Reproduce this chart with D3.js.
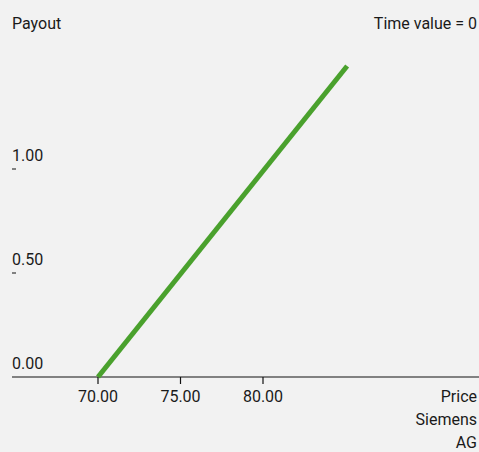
<!DOCTYPE html>
<html><head><meta charset="utf-8">
<script src="https://cdn.jsdelivr.net/npm/d3@7"></script>
<style>html,body{margin:0;padding:0;background:#f2f2f2;}svg{display:block;}text{font-family:Roboto,"DejaVu Sans",sans-serif;fill:#1a1a1a;}</style>
</head><body>
<script>
const prices = [70, 85.1];
const payouts = [0, 1.495];
const xTicks = [70, 75, 80];
const yTicks = [0, 0.5, 1.0];
const xLabel = ["Price", "Siemens", "AG"];
const yLabel = "Payout";
const note = "Time value = 0";

const W = 479, H = 452;
const svg = d3.select("body").append("svg").attr("width", W).attr("height", H);
svg.append("rect").attr("width", W).attr("height", H).attr("fill", "#f2f2f2");

const x = d3.scaleLinear().domain([70, 80]).range([98, 263]);
const y = d3.scaleLinear().domain([0, 1]).range([377, 169]);

// x axis line
svg.append("line").attr("x1", 12).attr("x2", W).attr("y1", y(0)).attr("y2", y(0))
  .attr("stroke", "#111").attr("stroke-width", 1.2);
xTicks.forEach(t => {
  svg.append("line").attr("x1", x(t)).attr("x2", x(t)).attr("y1", y(0)).attr("y2", y(0) + 7)
    .attr("stroke", "#111").attr("stroke-width", 1.2);
  svg.append("text").attr("x", x(t)).attr("y", 402).attr("text-anchor", "middle")
    .attr("font-size", 16).text(d3.format(".2f")(t));
});
yTicks.forEach(t => {
  svg.append("text").attr("x", 12).attr("y", y(t) - 8).attr("font-size", 16).text(d3.format(".2f")(t));
  if (t > 0) svg.append("line").attr("x1", 12).attr("x2", 16).attr("y1", y(t)).attr("y2", y(t))
    .attr("stroke", "#111").attr("stroke-width", 1);
});

// payout line
const line = d3.line().x((d, i) => x(prices[i])).y((d, i) => y(payouts[i]));
svg.append("path").datum(prices).attr("d", line).attr("fill", "none")
  .attr("stroke", "#4aa12d").attr("stroke-width", 5);

svg.append("text").attr("x", 12).attr("y", 29).attr("font-size", 16).text(yLabel);
svg.append("text").attr("x", 477).attr("y", 29).attr("font-size", 16).attr("text-anchor", "end").text(note);
xLabel.forEach((l, i) => {
  svg.append("text").attr("x", 477).attr("y", 402 + i * 23).attr("font-size", 16)
    .attr("text-anchor", "end").text(l);
});
</script>
</body></html>
